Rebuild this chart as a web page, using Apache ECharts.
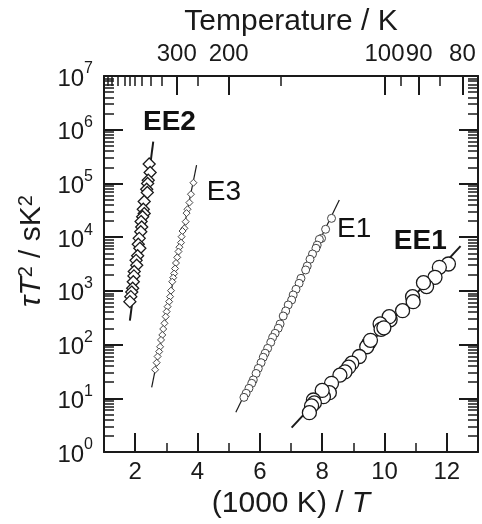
<!DOCTYPE html>
<html>
<head>
<meta charset="utf-8">
<script src="https://cdn.jsdelivr.net/npm/echarts@6/dist/echarts.min.js"></script>
<style>
html, body { margin: 0; padding: 0; background: #fff; }
#chart { width: 482px; height: 524px; }
</style>
</head>
<body>
<div id="chart"></div>
<script>
// points: [1000 K / T, tau*T^2 (s K^2)]
const ee2 = [
  [2.45, 230000], [2.48, 160000], [2.42, 115000], [2.40, 100000], [2.37, 78000],
  [2.39, 68000], [2.29, 46000], [2.26, 33000], [2.29, 27500], [2.24, 24000],
  [2.19, 19500], [2.21, 15500], [2.18, 12600], [2.13, 9500], [2.10, 7400],
  [2.15, 6200], [2.08, 4500], [2.03, 3700], [2.05, 3000], [1.97, 2300],
  [1.96, 1900], [1.94, 1480], [1.92, 1120], [1.89, 950], [1.86, 780], [1.83, 630]
]
const e3 = [
  [3.87, 103000], [3.79, 63000], [3.74, 44000], [3.68, 33000], [3.65, 28000],
  [3.62, 19400], [3.58, 14600], [3.52, 13000], [3.49, 10200], [3.47, 7900],
  [3.42, 6500], [3.39, 5400], [3.35, 4200], [3.31, 3300], [3.28, 2600],
  [3.25, 2100], [3.22, 1760], [3.19, 1480], [3.15, 1010], [3.12, 780],
  [3.09, 630], [3.04, 508], [3.01, 410], [2.98, 331], [2.94, 249],
  [2.90, 195], [2.87, 151], [2.83, 122], [2.80, 91], [2.77, 74],
  [2.72, 60], [2.69, 46], [2.64, 34]
]
const e1 = [
  [8.30, 22400], [8.11, 14000], [7.98, 9500], [7.91, 9100], [7.84, 7100],
  [7.80, 6200], [7.69, 4860], [7.61, 3870], [7.52, 2900], [7.47, 2450],
  [7.32, 1710], [7.26, 1380], [7.16, 1070], [7.07, 838], [7.02, 676],
  [6.91, 546], [6.83, 422], [6.75, 340], [6.65, 242], [6.59, 201],
  [6.49, 162], [6.41, 136], [6.35, 110], [6.25, 85], [6.17, 69],
  [6.11, 58], [6.04, 46], [5.95, 36], [5.88, 29], [5.79, 22],
  [5.74, 19], [5.65, 15.3], [5.56, 12.4], [5.49, 10.4]
]
const ee1 = [
  [12.05, 3160], [11.76, 2740], [11.62, 1790], [11.35, 1200], [11.25, 1420],
  [10.90, 780], [10.92, 630], [10.58, 428], [10.18, 290], [10.15, 331],
  [9.86, 242], [9.89, 192], [9.98, 205], [9.51, 109], [9.43, 91],
  [9.55, 120], [9.19, 60], [8.95, 45], [8.85, 38], [8.73, 31],
  [8.57, 27], [8.30, 19], [8.23, 12.7], [8.04, 10.7], [8.00, 14],
  [7.72, 9.3], [7.75, 8.2], [7.66, 7.2], [7.59, 5.4]
]

// fitted straight lines (end points)
const ee2Fit = [[1.83, 280], [2.58, 600000]]
const e3Fit = [[2.53, 16], [3.97, 220000]]
const e1Fit = [[5.23, 5.5], [8.55, 49000]]
const ee1Fit = [[7.02, 2.84], [12.44, 6800]]

// series names placed on the plot
const seriesLabels = [
  { value: [2.25, 1360000], name: 'EE2', bold: true },
  { value: [4.30, 69000], name: 'E3', bold: false },
  { value: [8.475, 14200], name: 'E1', bold: false },
  { value: [10.30, 8300], name: 'EE1', bold: true }
]

// ticks
const xMajor = [2, 4, 6, 8, 10, 12]
const xMinor = [3, 5, 7, 9, 11]
const tempMajor = [300, 200, 100, 90, 80]
const tempMinor = [1000, 900, 800, 700, 600, 550, 500, 450, 400, 350, 250, 150, 95, 85]
const yDecades = [1, 10, 100, 1e3, 1e4, 1e5, 1e6, 1e7]

const yMinor = []
for (let d = 0; d < 7; d++) {
  for (let m = 2; m <= 9; m++) yMinor.push(m * Math.pow(10, d))
}

const font = "'Liberation Sans', Arial, sans-serif"
const ink = '#1a1a1a'

function tickAxis(base, ticks, len, width) {
  return Object.assign({
    axisLine: { show: false },
    axisLabel: { show: false },
    splitLine: { show: false },
    axisTick: { show: true, inside: true, length: len, customValues: ticks, lineStyle: { color: ink, width: width } }
  }, base)
}

const xBase = { type: 'value', min: 1, max: 13, gridIndex: 0 }
const yBase = { type: 'log', logBase: 10, min: 1, max: 1e7, gridIndex: 0 }

let option = {
  animation: false,
  backgroundColor: '#fff',
  textStyle: { fontFamily: font },
  grid: { left: 104, right: 4, top: 76, bottom: 72, containLabel: false },
  xAxis: [
    {
      ...xBase,
      position: 'bottom',
      name: '(1000 K) / {it|T}',
      nameLocation: 'middle',
      nameGap: 35,
      nameTextStyle: {
        fontSize: 30, color: ink, fontFamily: font,
        rich: { it: { fontSize: 30, fontStyle: 'italic', color: ink, fontFamily: font } }
      },
      axisLine: { show: true, lineStyle: { color: ink, width: 2 } },
      axisTick: { show: true, inside: true, length: 19, customValues: xMajor, lineStyle: { color: ink, width: 2 } },
      axisLabel: { customValues: xMajor, fontSize: 24, color: ink, margin: 8, fontFamily: font, hideOverlap: false },
      splitLine: { show: false }
    },
    tickAxis({ ...xBase, position: 'bottom' }, xMinor, 9, 1.5),
    {
      ...xBase,
      position: 'top',
      name: 'Temperature / K',
      nameLocation: 'middle',
      nameGap: 37,
      nameTextStyle: { fontSize: 30, color: ink, fontFamily: font },
      axisLine: { show: true, lineStyle: { color: ink, width: 2 } },
      axisTick: { show: true, inside: true, length: 19, customValues: tempMajor.map(t => 1000 / t), lineStyle: { color: ink, width: 2 } },
      axisLabel: {
        customValues: tempMajor.map(t => 1000 / t), fontSize: 24, color: ink, margin: 10, fontFamily: font, hideOverlap: false,
        formatter: v => String(Math.round(1000 / v))
      },
      splitLine: { show: false }
    },
    tickAxis({ ...xBase, position: 'top' }, tempMinor.map(t => 1000 / t), 10, 1.5)
  ],
  yAxis: [
    {
      ...yBase,
      position: 'left',
      name: '{it|τT}{sup|2}{n| / sK}{sup|2}',
      nameLocation: 'middle',
      nameRotate: 90,
      nameGap: 54,
      nameTextStyle: {
        fontSize: 30, color: ink, fontFamily: font, padding: [0, 0, 0, 26],
        rich: {
          it: { fontSize: 30, fontStyle: 'italic', color: ink, fontFamily: font },
          n: { fontSize: 30, color: ink, fontFamily: font },
          sup: { fontSize: 20, verticalAlign: 'top', color: ink, fontFamily: font }
        }
      },
      axisLine: { show: true, lineStyle: { color: ink, width: 2 } },
      axisTick: { show: true, inside: true, length: 19, customValues: yDecades, lineStyle: { color: ink, width: 2 } },
      axisLabel: {
        customValues: yDecades, margin: 11, color: ink, hideOverlap: false,
        formatter: v => '{b|10}{s|' + Math.round(Math.log10(v)) + '}',
        rich: {
          b: { fontSize: 24, color: ink, fontFamily: font, lineHeight: 30, verticalAlign: 'bottom' },
          s: { fontSize: 16, color: ink, fontFamily: font, verticalAlign: 'top' }
        }
      },
      splitLine: { show: false }
    },
    tickAxis({ ...yBase, position: 'left' }, yMinor, 10, 1.5),
    {
      ...yBase,
      position: 'right',
      axisLine: { show: true, lineStyle: { color: ink, width: 2 } },
      axisTick: { show: true, inside: true, length: 19, customValues: yDecades, lineStyle: { color: ink, width: 2 } },
      axisLabel: { show: false },
      splitLine: { show: false }
    },
    tickAxis({ ...yBase, position: 'right' }, yMinor, 10, 1.5)
  ],
  series: [
    { type: 'line', data: ee2Fit, symbol: 'none', z: 1, lineStyle: { color: ink, width: 2 } },
    { type: 'line', data: e3Fit, symbol: 'none', z: 1, lineStyle: { color: ink, width: 1.2 } },
    { type: 'line', data: e1Fit, symbol: 'none', z: 1, lineStyle: { color: ink, width: 1.2 } },
    { type: 'line', data: ee1Fit, symbol: 'none', z: 1, lineStyle: { color: ink, width: 2 } },
    {
      name: 'EE2', type: 'scatter', data: ee2, symbol: 'diamond', symbolSize: 12, z: 3,
      itemStyle: { color: '#fff', borderColor: ink, borderWidth: 1.3, opacity: 1 }
    },
    {
      name: 'E3', type: 'scatter', data: e3, symbol: 'diamond', symbolSize: 7, z: 3,
      itemStyle: { color: '#fff', borderColor: '#444', borderWidth: 1, opacity: 1 }
    },
    {
      name: 'E1', type: 'scatter', data: e1, symbol: 'circle', symbolSize: 8, z: 3,
      itemStyle: { color: '#fff', borderColor: '#444', borderWidth: 1, opacity: 1 }
    },
    {
      name: 'EE1', type: 'scatter', data: ee1, symbol: 'circle', symbolSize: 14, z: 3,
      itemStyle: { color: '#fff', borderColor: ink, borderWidth: 1.3, opacity: 1 }
    },
    {
      type: 'scatter', symbolSize: 0, z: 4, silent: true,
      itemStyle: { opacity: 1 },
      data: seriesLabels.map(d => ({
        value: d.value,
        itemStyle: { opacity: 1 },
        label: {
          show: true, position: 'right', distance: 0, formatter: d.name, opacity: 1,
          fontSize: 28, fontWeight: d.bold ? 'bold' : 'normal', color: '#111', fontFamily: font
        }
      }))
    }
  ]
}

let chart = echarts.init(document.getElementById('chart'))
chart.setOption(option)
</script>
</body>
</html>
